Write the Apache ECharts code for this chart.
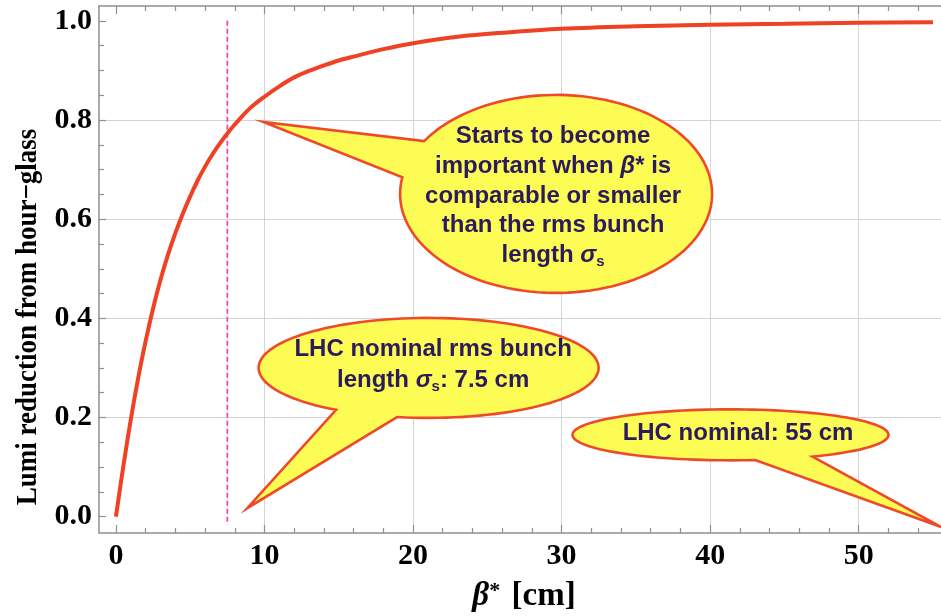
<!DOCTYPE html>
<html>
<head>
<meta charset="utf-8">
<script src="https://cdn.jsdelivr.net/npm/echarts@6/dist/echarts.min.js"></script>
<style>
  html, body { margin: 0; padding: 0; background: #fff; }
  #main { width: 941px; height: 616px; }
</style>
</head>
<body>
<div id="main"></div>
<script>
// beta* [cm]
const betaStar = [0, 0.5, 1, 1.5, 2, 2.5, 3, 3.5, 4, 4.5, 5, 5.5, 6, 6.5, 7, 7.5, 8, 9, 10, 11, 12, 13, 14, 15, 16, 18, 20, 23, 26, 30, 35, 40, 45, 50, 55];
// lumi reduction
const reduction = [0, 0.102, 0.196, 0.280, 0.354, 0.420, 0.478, 0.528, 0.572, 0.611, 0.646, 0.678, 0.706, 0.731, 0.753, 0.773, 0.791, 0.823, 0.847, 0.868, 0.886, 0.899, 0.910, 0.920, 0.928, 0.943, 0.955, 0.968, 0.976, 0.984, 0.989, 0.992, 0.994, 0.996, 0.997];
// dashed marker at sigma_s = 7.5 cm
const sigmaX = [7.5, 7.5];
const sigmaY = [1.0, -0.017];

// tick labels
const xMajor = [0, 10, 20, 30, 40, 50];
const yMajor = [0, 0.2, 0.4, 0.6, 0.8, 1.0];
const xGrid = [10, 20, 30, 40, 50];
const yGrid = [0.2, 0.4, 0.6, 0.8];

const xMinor = [];
for (let v = 2; v <= 56; v += 2) if (v % 10) xMinor.push(v);
const yMinor = [];
for (let i = 1; i <= 20; i++) if (i % 4) yMinor.push(+(i * 0.05).toFixed(2));

const X_MIN = -1.14, X_MAX = 56.08, Y_MIN = -0.033, Y_MAX = 1.03;
const frame = '#8f8f8f';
const serif = 'Liberation Serif';
const sans = 'Liberation Sans';

function xAx(pos, ticks, len, line, extra) {
  return Object.assign({
    type: 'value', position: pos, min: X_MIN, max: X_MAX,
    axisLine: { show: line, onZero: false, lineStyle: { color: frame, width: 1.5 } },
    axisTick: { show: true, inside: true, length: len, customValues: ticks, lineStyle: { color: frame, width: 1.2 } },
    axisLabel: { show: false },
    splitLine: { show: false }
  }, extra || {});
}
function yAx(pos, ticks, len, line, extra) {
  return Object.assign({
    type: 'value', position: pos, min: Y_MIN, max: Y_MAX,
    axisLine: { show: line, onZero: false, lineStyle: { color: frame, width: 1.5 } },
    axisTick: { show: true, inside: true, length: len, customValues: ticks, lineStyle: { color: frame, width: 1.2 } },
    axisLabel: { show: false },
    splitLine: { show: false }
  }, extra || {});
}

let chart = echarts.init(document.getElementById('main'));
chart.setOption({
  animation: false,
  grid: { left: 99, right: -8, top: 6, bottom: 83, containLabel: false, outerBoundsMode: 'none' },
  xAxis: [
    xAx('bottom', xMajor, 8, true, {
      axisLabel: { show: true, customValues: xMajor, margin: 8, color: '#000',
        fontFamily: serif, fontWeight: 'bold', fontSize: 30 },
      name: '{b|β}{s|*} [cm]', nameLocation: 'middle', nameGap: 47,
      nameTextStyle: {
        fontFamily: serif, fontWeight: 'bold', fontSize: 33, color: '#000',
        rich: {
          b: { fontFamily: serif, fontWeight: 'bold', fontStyle: 'italic', fontSize: 33, color: '#000' },
          s: { fontFamily: serif, fontWeight: 'bold', fontSize: 22, color: '#000', padding: [0, 3, 10, 0] }
        }
      }
    }),
    xAx('bottom', xMinor, 5, false),
    xAx('top', xMajor, 8, true),
    xAx('top', xMinor, 5, false),
    xAx('bottom', xGrid, 0, false, {
      axisTick: { show: false, customValues: xGrid },
      splitLine: { show: true, lineStyle: { color: '#d4d4d4', width: 1 } }
    })
  ],
  yAxis: [
    yAx('left', yMajor, 7, true, {
      axisLabel: { show: true, customValues: yMajor, margin: 7, color: '#000',
        fontFamily: serif, fontWeight: 'bold', fontSize: 30,
        formatter: v => v.toFixed(1) }
    }),
    yAx('left', yMinor, 5, false),
    yAx('left', yGrid, 0, false, {
      axisTick: { show: false, customValues: yGrid },
      splitLine: { show: true, lineStyle: { color: '#d4d4d4', width: 1 } }
    })
  ],
  series: [
    {
      type: 'line', name: 'sigma', xAxisIndex: 0, yAxisIndex: 0,
      data: sigmaX.map((x, i) => [x, sigmaY[i]]),
      showSymbol: false, silent: true,
      lineStyle: { color: '#ee4cae', width: 1.8, type: [5, 3] }
    },
    {
      type: 'line', name: 'reduction', xAxisIndex: 0, yAxisIndex: 0,
      data: betaStar.map((x, i) => [x, reduction[i]]),
      smooth: 0.35, showSymbol: false,
      lineStyle: { color: '#ef4123', width: 4 }
    }
  ]
});

// speech bubbles (centre / tip in data units, radii in px, base angles in degrees)
const bubbles = [
  { center: [29.63, 0.651], rx: 156, ry: 99, base: [189.7, 212.2], tip: [9.93, 0.796], dx: -3, dy: 2,
    text: 'Starts to become\nimportant when {b|β}* is\ncomparable or smaller\nthan the rms bunch\nlength {b|σ}{s|s}', lh: 29.6 },
  { center: [21.05, 0.30], rx: 170, ry: 50, base: [100.7, 123], tip: [8.84, 0.017], dx: 4.5, dy: -3.5,
    text: 'LHC nominal rms bunch\nlength {b|σ}{s|s}: 7.5 cm', lh: 31 },
  { center: [41.37, 0.165], rx: 158, ry: 25.5, base: [58.7, 81], tip: [55.55, -0.021], dx: 7.5, dy: -1.7,
    text: 'LHC nominal: 55 cm', lh: 30 }
];

const ink = '#2b1a5c';
const graphics = [];
bubbles.forEach(b => {
  const c = chart.convertToPixel({ xAxisIndex: 0, yAxisIndex: 0 }, b.center);
  const tip = chart.convertToPixel({ xAxisIndex: 0, yAxisIndex: 0 }, b.tip);
  const a0 = Math.max(b.base[0], b.base[1]);
  const a1 = Math.min(b.base[0], b.base[1]) + 360;
  const pts = [];
  for (let i = 0; i <= 120; i++) {
    const a = (a0 + (a1 - a0) * i / 120) * Math.PI / 180;
    pts.push([c[0] + b.rx * Math.cos(a), c[1] + b.ry * Math.sin(a)]);
  }
  pts.push(tip);
  graphics.push({
    type: 'polygon', z: 100, shape: { points: pts },
    style: { fill: '#fcfc55', stroke: '#ee4a2a', lineWidth: 2.6, lineJoin: 'miter' }
  });
  graphics.push({
    type: 'text', z: 101, x: c[0] + b.dx, y: c[1] + b.dy,
    style: {
      text: b.text, align: 'center', verticalAlign: 'middle',
      fontFamily: sans, fontWeight: 'bold', fontSize: 24, lineHeight: b.lh, fill: ink,
      rich: {
        b: { fontFamily: sans, fontWeight: 'bold', fontStyle: 'italic', fontSize: 24, lineHeight: b.lh, fill: ink },
        s: { fontFamily: sans, fontWeight: 'bold', fontSize: 15, lineHeight: 14, padding: [14, 0, 0, 0], fill: ink }
      }
    }
  });
});

// y-axis title, centred on the page height like the original
graphics.push({
  type: 'text', x: 28, y: 317, rotation: Math.PI / 2, scaleX: 0.9,
  style: {
    text: 'Lumi reduction from hour\u2212glass', align: 'center', verticalAlign: 'middle',
    fontFamily: serif, fontWeight: 'bold', fontSize: 30, fill: '#000'
  }
});
chart.setOption({ graphic: graphics });
</script>
</body>
</html>
